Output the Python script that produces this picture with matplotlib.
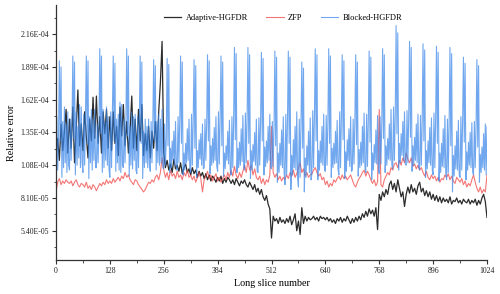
import numpy as np
import matplotlib
matplotlib.use("Agg")
import matplotlib.pyplot as plt
from matplotlib.ticker import FormatStrFormatter, MultipleLocator

plt.rcParams['font.family'] = ['Liberation Serif', 'DejaVu Serif']

# values in units of 1e-5
# Adaptive-HGFDR and ZFP read every 4 slices, Blocked-HGFDR every 2 slices
slices = np.arange(0, 1025, 4)
slices_b = np.arange(0, 1025, 2)

adaptive = [
    11.5, 13.0, 11.2, 14.2, 12.0, 13.6, 15.4, 11.8,
    14.6, 12.2, 15.6, 11.0, 13.8, 17.0, 12.4, 14.2,
    12.0, 15.2, 13.2, 11.4, 14.6, 12.8, 16.4, 13.0,
    16.5, 12.6, 14.8, 11.8, 15.2, 13.4, 15.4, 12.2,
    14.8, 12.0, 15.2, 12.6, 14.0, 11.6, 15.6, 13.2,
    15.8, 12.4, 14.4, 11.8, 13.6, 16.5, 12.2, 14.6,
    12.0, 15.4, 12.8, 15.8, 11.6, 13.4, 12.0, 14.0,
    11.4, 13.6, 12.2, 14.4, 12.0, 15.2, 17.6, 21.0,
    11.8, 10.6, 11.2, 10.4, 10.9, 10.2, 11.3, 10.5,
    10.8, 10.3, 11.0, 10.1, 10.6, 10.9, 10.2, 10.5,
    10.0, 10.6, 10.1, 10.4, 9.8, 10.3, 9.9, 10.2,
    9.7, 10.1, 9.6, 10.0, 9.5, 9.9, 9.7, 9.4,
    9.8, 9.5, 9.9, 9.3, 9.7, 9.4, 9.8, 9.6,
    9.3, 9.6, 9.2, 9.7, 9.4, 9.1, 9.5, 9.3,
    9.6, 9.2, 9.0, 9.4, 9.1, 8.8, 9.2, 8.6,
    8.9, 8.4, 8.8, 8.2, 7.9, 8.3, 7.6, 7.2,
    4.8, 6.6, 6.2, 6.4, 6.0, 6.5, 6.1, 6.3,
    6.0, 6.4, 6.1, 6.6, 5.9, 6.3, 6.8, 5.4,
    6.2, 5.1, 7.3, 6.0, 6.6, 6.2, 6.5, 6.3,
    6.4, 6.6, 6.3, 6.5, 6.2, 6.6, 6.4, 6.5,
    6.3, 6.5, 6.2, 6.4, 6.1, 6.3, 6.0, 6.4,
    6.2, 6.5, 6.1, 6.4, 6.2, 6.6, 6.3, 6.0,
    6.4, 6.1, 6.5, 6.2, 6.6, 6.3, 6.8, 6.5,
    7.0, 6.6, 7.2, 6.8, 7.1, 6.6, 7.3, 5.5,
    8.4, 7.9, 8.6, 8.2, 8.8, 8.4, 9.2, 9.5,
    8.8, 9.3, 8.6, 9.6, 8.9, 8.2, 8.6, 7.4,
    8.4, 9.0, 8.5, 9.2, 8.6, 8.9, 8.4, 9.1,
    9.4, 8.6, 8.9, 8.3, 8.7, 8.2, 8.6, 8.0,
    8.4, 7.9, 8.3, 7.8, 8.2, 7.7, 8.1, 7.8,
    8.0, 7.7, 8.2, 7.6, 7.9, 7.8, 8.1, 7.7,
    7.9, 7.6, 8.0, 7.8, 7.7, 8.0, 7.6, 7.9,
    7.7, 8.0, 7.5, 7.9, 7.6, 8.1, 8.4, 7.8,
    6.5,
]

zfp = [
    8.6, 9.4, 9.7, 9.2, 9.5, 9.3, 9.6, 9.4,
    9.3, 9.5, 9.1, 9.4, 9.6, 9.2, 9.0, 9.3,
    9.2, 9.0, 9.4, 8.9, 9.1, 8.8, 9.2, 9.0,
    8.7, 9.0, 9.3, 9.1, 9.4, 9.2, 9.6, 9.3,
    9.5, 9.3, 9.7, 9.4, 9.6, 9.8, 9.5, 9.9,
    9.7, 10.2, 9.8, 10.0, 9.6, 9.4, 9.2, 9.6,
    9.5, 9.2, 9.0, 8.8, 8.6, 8.8, 9.1, 9.4,
    9.3, 9.6, 9.4, 9.8, 10.0, 9.6, 10.2, 11.4,
    10.4, 9.8, 10.2, 9.6, 10.4, 9.9, 10.1, 9.7,
    10.3, 9.8, 10.0, 9.6, 10.2, 9.9, 10.4, 9.8,
    10.0, 9.6, 9.9, 9.4, 9.8, 10.2, 9.7, 8.6,
    9.6, 9.9, 10.3, 9.7, 10.0, 9.5, 9.8, 10.1,
    9.5, 9.8, 9.4, 9.7, 10.0, 9.6, 10.2, 9.8,
    10.4, 9.9, 10.7, 10.0, 9.7, 10.2, 9.8, 10.3,
    10.8, 10.2, 11.2, 10.4, 10.8, 10.0, 10.5, 9.8,
    9.6, 9.9, 9.3, 9.7, 9.2, 9.6, 9.4, 10.0,
    14.0, 10.2, 9.8, 10.1, 9.6, 9.9, 9.5, 9.8,
    9.6, 10.0, 9.7, 10.2, 9.9, 10.4, 9.8, 10.1,
    10.6, 11.0, 10.2, 10.5, 9.9, 10.2, 9.8, 10.0,
    10.1, 10.4, 10.6, 10.2, 9.9, 10.1, 9.6, 9.8,
    9.2, 9.5, 9.0, 9.3, 9.1, 9.6, 9.4, 9.7,
    9.9, 9.6, 10.0, 9.7, 9.9, 9.6, 9.8, 10.0,
    9.6, 9.2, 9.0, 9.4, 9.7, 9.9, 10.2, 10.4,
    9.9, 10.3, 10.0, 9.6, 9.3, 9.6, 9.1, 9.4,
    15.4, 9.2, 9.0, 9.6, 9.9, 10.2, 10.0, 10.6,
    10.4, 10.9, 11.0, 10.6, 11.2, 10.8, 11.4, 11.0,
    11.8, 11.3, 11.0, 11.4, 10.7, 10.9, 10.5, 10.8,
    10.4, 10.6, 10.2, 9.9, 10.3, 9.8, 9.6, 10.0,
    9.7, 9.9, 9.5, 9.8, 9.4, 9.7, 9.6, 10.0,
    9.8, 10.1, 9.6, 9.9, 9.5, 9.3, 9.8, 9.6,
    9.4, 9.7, 9.2, 9.5, 9.0, 9.3, 9.1, 9.6,
    10.0, 9.4, 8.9, 8.6, 9.0, 8.5, 8.8, 8.6,
    10.0,
]

blocked = [
    12.6, 14.8, 10.4, 13.2, 19.4, 12.8, 18.9, 9.8, 14.4, 10.6, 15.6, 11.0, 14.2, 10.2, 15.2, 10.8,
    10.4, 14.6, 11.2, 14.2, 19.8, 13.0, 19.3, 10.0, 15.2, 10.8, 14.0, 11.4, 15.8, 10.6, 15.6, 11.0,
    10.2, 15.0, 10.8, 14.8, 19.8, 12.6, 19.4, 9.7, 14.8, 11.0, 15.4, 10.4, 14.6, 11.2, 15.4, 10.6,
    10.6, 14.2, 11.0, 13.8, 20.4, 13.4, 19.8, 10.2, 15.4, 10.6, 14.4, 11.2, 15.6, 10.8, 14.8, 10.4,
    9.8, 15.2, 10.6, 15.0, 19.8, 12.8, 19.2, 10.3, 14.6, 11.0, 15.0, 10.4, 16.0, 10.2, 15.8, 10.8,
    10.6, 14.6, 11.0, 14.2, 20.4, 13.2, 19.8, 9.9, 14.0, 10.8, 15.2, 10.5, 14.8, 11.2, 15.0, 10.4,
    10.1, 14.8, 10.6, 14.4, 19.8, 12.6, 19.3, 9.7, 13.6, 10.6, 14.6, 11.0, 14.0, 10.6, 14.6, 10.8,
    10.3, 14.4, 11.0, 14.0, 19.5, 12.8, 19.0, 10.4, 14.4, 11.0, 15.0, 10.8, 14.6, 11.0, 15.4, 10.6,
    10.5, 14.2, 10.8, 13.0, 19.6, 12.4, 19.1, 10.2, 12.2, 10.6, 12.8, 11.2, 13.6, 10.8, 14.4, 10.4,
    10.4, 14.8, 11.0, 14.4, 19.8, 12.6, 19.3, 10.0, 11.8, 10.4, 12.6, 11.0, 13.8, 11.2, 14.6, 10.6,
    10.2, 15.0, 10.8, 14.6, 19.5, 12.2, 19.0, 9.8, 12.0, 10.6, 12.9, 11.3, 13.4, 10.8, 14.2, 10.5,
    10.6, 14.6, 11.2, 14.2, 19.9, 12.8, 19.4, 10.1, 12.4, 10.8, 13.0, 11.0, 13.9, 11.2, 14.8, 10.7,
    10.3, 15.2, 10.9, 14.8, 19.8, 12.4, 19.3, 9.9, 11.8, 10.5, 12.4, 11.2, 13.6, 10.9, 14.5, 10.4,
    10.0, 14.8, 10.6, 14.4, 20.5, 12.9, 20.0, 10.2, 12.2, 10.6, 12.7, 10.8, 13.8, 11.1, 14.9, 10.6,
    10.4, 15.1, 11.0, 14.6, 20.5, 12.6, 19.9, 9.7, 12.0, 10.4, 12.5, 11.1, 13.5, 10.8, 14.6, 10.3,
    10.2, 14.7, 10.8, 14.3, 20.1, 12.8, 19.6, 10.0, 12.3, 10.7, 12.8, 11.0, 14.0, 11.2, 15.0, 10.6,
    10.5, 14.4, 10.7, 14.0, 20.2, 12.4, 19.7, 9.4, 11.8, 10.2, 12.6, 10.8, 13.7, 10.6, 14.8, 10.2,
    9.2, 15.0, 10.0, 14.6, 20.2, 12.6, 19.7, 8.8, 11.6, 10.0, 12.9, 10.6, 14.0, 10.4, 15.2, 9.8,
    9.0, 14.6, 9.8, 14.2, 19.3, 12.2, 18.8, 8.6, 11.4, 9.8, 12.4, 10.8, 13.6, 10.2, 14.7, 9.6,
    10.1, 15.3, 10.6, 14.8, 20.4, 12.8, 19.9, 9.6, 12.0, 10.4, 12.8, 11.0, 14.0, 10.8, 15.0, 10.4,
    10.3, 14.9, 10.8, 14.4, 20.4, 12.6, 19.8, 9.8, 12.2, 10.6, 12.6, 10.9, 13.6, 11.0, 14.5, 10.5,
    10.0, 15.2, 10.6, 14.7, 19.9, 12.9, 19.4, 9.7, 11.9, 10.3, 12.9, 11.2, 13.8, 10.7, 14.8, 10.3,
    10.4, 14.6, 10.9, 14.2, 19.9, 12.5, 19.3, 9.9, 12.1, 10.6, 12.7, 10.8, 14.0, 11.0, 15.1, 10.6,
    10.2, 15.0, 10.7, 14.5, 20.2, 12.7, 19.7, 9.6, 11.8, 10.4, 12.5, 11.0, 13.7, 10.9, 14.9, 10.4,
    10.1, 14.8, 10.9, 14.3, 20.4, 13.0, 19.9, 10.2, 12.4, 10.8, 13.0, 11.3, 14.2, 11.2, 15.4, 10.8,
    10.5, 15.6, 11.2, 15.0, 22.3, 13.4, 21.7, 10.4, 12.6, 11.0, 13.4, 11.6, 14.4, 11.2, 15.2, 10.9,
    10.8, 15.3, 11.0, 14.8, 21.0, 13.1, 20.5, 10.3, 12.4, 10.8, 13.1, 11.2, 14.2, 11.0, 15.0, 10.6,
    10.4, 14.9, 10.8, 14.4, 20.8, 12.8, 20.3, 9.8, 12.0, 10.5, 12.8, 11.0, 13.9, 10.8, 14.7, 10.4,
    10.0, 15.1, 10.6, 14.6, 20.6, 12.6, 20.1, 9.5, 11.8, 10.2, 12.6, 10.7, 13.8, 10.6, 14.9, 10.2,
    9.6, 14.6, 10.2, 14.2, 20.5, 12.4, 20.0, 8.6, 11.6, 9.9, 12.4, 10.5, 13.6, 10.4, 14.5, 10.0,
    9.8, 14.8, 10.4, 14.3, 19.7, 12.7, 19.2, 9.6, 11.9, 10.4, 12.7, 10.8, 13.5, 10.6, 14.3, 10.2,
    10.0, 14.4, 10.6, 14.0, 19.5, 12.3, 19.0, 9.4, 11.7, 10.2, 12.3, 10.6, 13.4, 10.4, 14.2, 10.0,
    14.0,
]

scale = 1e-5
yticks = [5.4e-5, 8.1e-5, 1.08e-4, 1.35e-4, 1.62e-4, 1.89e-4, 2.16e-4]
xticks = [0, 128, 256, 384, 512, 640, 768, 896, 1024]

fig = plt.figure(figsize=(5, 2.94), dpi=100)
ax = fig.add_axes([0.112, 0.116, 0.862, 0.867])

ax.plot(slices, np.array(adaptive) * scale, color='#2b2b2b', lw=0.9, label='Adaptive-HGFDR')
ax.plot(slices, np.array(zfp) * scale, color='#f04848', lw=0.8, alpha=0.75, label='ZFP')
ax.plot(slices_b, np.array(blocked) * scale, color='#3a86e8', lw=0.8, alpha=0.72, label='Blocked-HGFDR')

ax.set_xlim(0, 1024)
ax.set_ylim(3.0e-5, 2.4e-4)
ax.set_xticks(xticks)
ax.set_yticks(yticks)
ax.xaxis.set_minor_locator(MultipleLocator(64))
ax.yaxis.set_minor_locator(MultipleLocator(1.35e-5))
ax.yaxis.set_major_formatter(FormatStrFormatter('%.2E'))

for side in ['top', 'right']:
    ax.spines[side].set_visible(False)
for side in ['left', 'bottom']:
    ax.spines[side].set_color('#333333')
    ax.spines[side].set_linewidth(0.9)

ax.tick_params(axis='both', which='major', direction='out', length=3, width=0.8,
               labelsize=5.6, colors='#333333', labelcolor='#222222', pad=2)
ax.tick_params(axis='both', which='minor', direction='out', length=1.8, width=0.6, colors='#333333')

ax.set_xlabel('Long slice number', fontsize=7.3, labelpad=3)
ax.set_ylabel('Relative error', fontsize=7.3, labelpad=3)

ax.legend(loc='center', bbox_to_anchor=(0.527, 0.949), ncol=3, frameon=False,
          fontsize=6, handlelength=2.1, columnspacing=2.2, handletextpad=0.5)

fig.savefig('out.png', dpi=100)
